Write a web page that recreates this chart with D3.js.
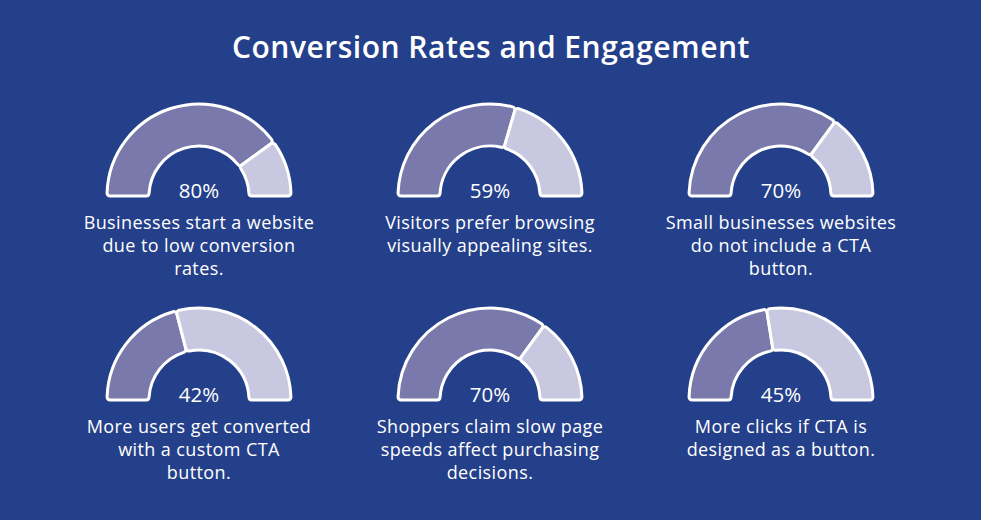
<!DOCTYPE html>
<html>
<head>
<meta charset="utf-8">
<script src="https://cdn.jsdelivr.net/npm/d3@7"></script>
<style>
  html, body { margin: 0; padding: 0; background: #25408a; }
  svg { display: block; }
</style>
</head>
<body>
<svg id="chart" width="981" height="520"></svg>
<script>
const title = "Conversion Rates and Engagement";
const values = [80, 59, 70, 42, 70, 45];
const labelLines = [
  ["Businesses start a website", "due to low conversion", "rates."],
  ["Visitors prefer browsing", "visually appealing sites."],
  ["Small businesses websites", "do not include a CTA", "button."],
  ["More users get converted", "with a custom CTA", "button."],
  ["Shoppers claim slow page", "speeds affect purchasing", "decisions."],
  ["More clicks if CTA is", "designed as a button."]
];
const columns = [0, 1, 2];
const rows = [0, 1];

const W = 981, H = 520;
const svg = d3.select("#chart");
const bg = "#25408a", fillColor = "#7a79ab", restColor = "#c9c8e1";
const font = "'Open Sans', 'DejaVu Sans', sans-serif";

svg.append("rect").attr("width", W).attr("height", H).attr("fill", bg);

svg.append("text")
  .attr("x", 491).attr("y", 58)
  .attr("text-anchor", "middle")
  .attr("fill", "#ffffff")
  .attr("font-family", font)
  .attr("font-weight", 600)
  .attr("font-size", 30)
  .attr("letter-spacing", 0.5)
  .text(title);

const xScale = d3.scalePoint().domain(columns).range([199, 781]);
const yScale = d3.scalePoint().domain(rows).range([196, 400]);
const angle = d3.scaleLinear().domain([0, 100]).range([-Math.PI / 2, Math.PI / 2]);

const outerR = 92, innerR = 50;
const arc = d3.arc().innerRadius(innerR).outerRadius(outerR).cornerRadius(3);

values.forEach((v, i) => {
  const col = i % 3, row = Math.floor(i / 3);
  const cx = xScale(col), cy = yScale(row);
  const g = svg.append("g").attr("transform", `translate(${cx},${cy})`);
  const segs = [
    { start: angle(0), end: angle(v), color: fillColor },
    { start: angle(v), end: angle(100), color: restColor }
  ];
  g.selectAll("path").data(segs).join("path")
    .attr("d", d => arc({ startAngle: d.start, endAngle: d.end }))
    .attr("fill", d => d.color)
    .attr("stroke", "#ffffff")
    .attr("stroke-width", 3)
    .attr("stroke-linejoin", "round");

  g.append("text")
    .attr("x", 0).attr("y", 2)
    .attr("text-anchor", "middle")
    .attr("fill", "#ffffff")
    .attr("font-family", font)
    .attr("font-weight", 400)
    .attr("font-size", 20.5)
    .text(v + "%");

  const t = g.append("text")
    .attr("text-anchor", "middle")
    .attr("fill", "#ffffff")
    .attr("font-family", font)
    .attr("font-size", 18)
    .attr("letter-spacing", 0.4);
  labelLines[i].forEach((line, k) => {
    t.append("tspan").attr("x", 0).attr("y", 33 + k * 23).text(line);
  });
});
</script>
</body>
</html>
